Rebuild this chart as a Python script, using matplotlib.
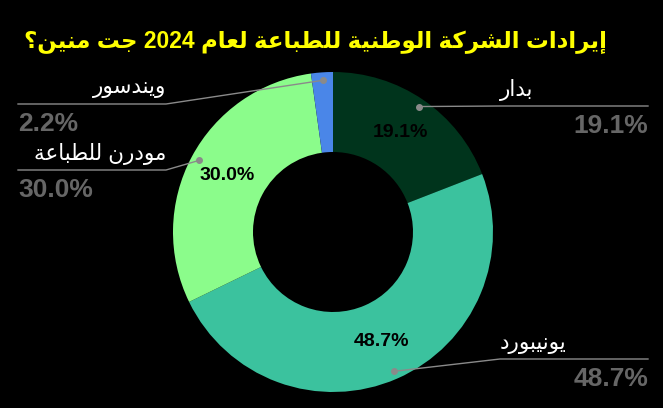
import re
import numpy as np
import matplotlib
matplotlib.use('Agg')
import matplotlib.pyplot as plt

# data
title = 'إيرادات الشركة الوطنية للطباعة لعام 2024 جت منين؟'
companies = ['بدار', 'يونيبورد', 'مودرن للطباعة', 'ويندسور']
revenue_share = [19.1, 48.7, 30.0, 2.2]
colors = ['#00341c', '#3bc29e', '#8bfc8b', '#4a86e8']

# matplotlib has no arabic shaping, so do it by hand:
# isolated presentation form + number of forms (4 = dual joining, 2 = right joining)
FORMS = {
    'ء': (0xFE80, 1), 'آ': (0xFE81, 2), 'أ': (0xFE83, 2), 'ؤ': (0xFE85, 2), 'إ': (0xFE87, 2),
    'ئ': (0xFE89, 4), 'ا': (0xFE8D, 2), 'ب': (0xFE8F, 4), 'ة': (0xFE93, 2), 'ت': (0xFE95, 4),
    'ث': (0xFE99, 4), 'ج': (0xFE9D, 4), 'ح': (0xFEA1, 4), 'خ': (0xFEA5, 4), 'د': (0xFEA9, 2),
    'ذ': (0xFEAB, 2), 'ر': (0xFEAD, 2), 'ز': (0xFEAF, 2), 'س': (0xFEB1, 4), 'ش': (0xFEB5, 4),
    'ص': (0xFEB9, 4), 'ض': (0xFEBD, 4), 'ط': (0xFEC1, 4), 'ظ': (0xFEC5, 4), 'ع': (0xFEC9, 4),
    'غ': (0xFECD, 4), 'ف': (0xFED1, 4), 'ق': (0xFED5, 4), 'ك': (0xFED9, 4), 'ل': (0xFEDD, 4),
    'م': (0xFEE1, 4), 'ن': (0xFEE5, 4), 'ه': (0xFEE9, 4), 'و': (0xFEED, 2), 'ى': (0xFEEF, 2),
    'ي': (0xFEF1, 4),
}


def shape(text):
    out = []
    for i, ch in enumerate(text):
        if ch not in FORMS or FORMS[ch][1] == 1:
            out.append(ch)
            continue
        base, nf = FORMS[ch]
        prev = text[i - 1] if i > 0 else ''
        nxt = text[i + 1] if i + 1 < len(text) else ''
        jp = prev in FORMS and FORMS[prev][1] == 4
        jn = nf == 4 and nxt in FORMS and FORMS[nxt][1] > 1
        if jp and jn:
            code = base + 3
        elif jp:
            code = base + 1
        elif jn:
            code = base + 2
        else:
            code = base
        out.append(chr(code))
    s = ''.join(out)[::-1]
    # numbers stay left to right
    return re.sub(r'[0-9A-Za-z.%]+', lambda m: m.group(0)[::-1], s)


plt.rcParams['font.family'] = ['Liberation Sans', 'DejaVu Sans']

W, H = 663, 408
fig = plt.figure(figsize=(W / 100, H / 100), dpi=100, facecolor='black')
ax = fig.add_axes([0, 0, 1, 1])
ax.set_facecolor('black')

cx, cy, R = 333, H - 232, 160
wedges, _, autotexts = ax.pie(
    revenue_share, colors=colors, startangle=90, counterclock=False,
    center=(cx, cy), radius=R, wedgeprops=dict(width=R / 2, linewidth=0),
    autopct=lambda p: f'{p:.1f}%' if p > 5 else '', pctdistance=0.75,
    textprops=dict(color='black', fontsize=14, fontweight='bold'))
ax.set_xlim(0, W)
ax.set_ylim(0, H)
ax.set_aspect('equal')
ax.axis('off')

# leader line layout (pixels from top)
line_y = [106, 359, 170, 104]
left_x, left_elbow = 18, 166
right_x, right_elbow = 648, 500
line_col = '#8a8a8a'

for w, name, val, ly in zip(wedges, companies, revenue_share, line_y):
    th = np.deg2rad((w.theta1 + w.theta2) / 2)
    dx, dy = cx + 0.95 * R * np.cos(th), cy + 0.95 * R * np.sin(th)
    y = H - ly
    if np.cos(th) >= 0:
        ax.plot([dx, right_elbow, right_x], [dy, y, y], color=line_col, lw=1)
        ax.text(right_elbow, y + 16, shape(name), color='white', fontsize=15.5,
                ha='left', va='center')
        ax.text(right_x, y - 27, f'{val:.1f}%', color='#666666', fontsize=19,
                fontweight='bold', ha='right', va='baseline')
    else:
        ax.plot([dx, left_elbow, left_x], [dy, y, y], color=line_col, lw=1)
        ax.text(left_elbow, y + 16, shape(name), color='white', fontsize=15.5,
                ha='right', va='center')
        ax.text(left_x, y - 27, f'{val:.1f}%', color='#666666', fontsize=19,
                fontweight='bold', ha='left', va='baseline')
    ax.plot(dx, dy, 'o', color=line_col, ms=4)

ax.text(315, H - 42, shape(title), color='#ffff00', fontsize=16.5, fontweight='bold',
        ha='center', va='center')

fig.savefig('out.png', dpi=100, facecolor='black')
